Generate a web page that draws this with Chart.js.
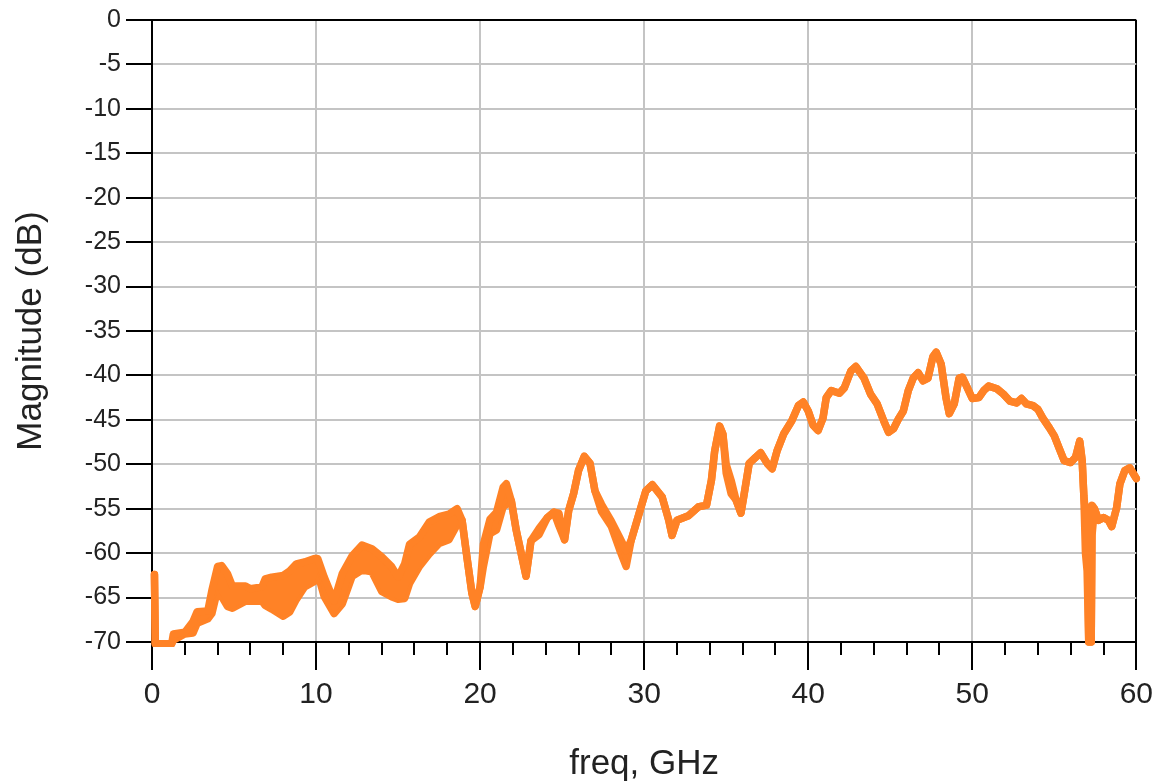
<!DOCTYPE html>
<html>
<head>
<meta charset="utf-8">
<script src="https://cdn.jsdelivr.net/npm/chart.js@4.4.1/dist/chart.umd.min.js"></script>
<style>
  html, body { margin: 0; padding: 0; background: #ffffff; }
  #wrap { width: 1160px; height: 784px; }
</style>
</head>
<body>
<div id="wrap"><canvas id="c" width="1160" height="784"></canvas></div>
<script>
// ---- data (freq in GHz, magnitude in dB) ----
// upper / lower trace the centre of the two edges of the thick noisy band;
// where the trace is a single line they are equal.
const freq = [
  0.15, 0.2, 1.2, 1.3, 2.0, 2.5, 2.75, 3.4, 3.65, 4.0, 4.25, 4.6, 4.9, 5.7, 6.0, 6.7, 6.9, 7.3, 8.0, 8.4,
  8.8, 9.3, 9.9, 10.1, 10.5, 11.1, 11.6, 12.2, 12.8, 13.4, 14.0, 14.6, 15.0, 15.4, 15.7, 16.3, 16.9, 17.5, 18.1, 18.6,
  18.9, 19.2, 19.5, 19.7, 20.0, 20.2, 20.6, 21.0, 21.4, 21.6, 21.9, 22.2, 22.5, 22.8, 23.1, 23.6, 24.1, 24.5, 24.8, 25.15,
  25.4, 25.7, 26.0, 26.35, 26.7, 27.0, 27.4, 28.0, 28.5, 28.9, 29.2, 29.7, 30.1, 30.5, 31.1, 31.5, 31.7, 32.0, 32.7, 33.3,
  33.8, 34.1, 34.3, 34.6, 34.8, 35.0, 35.3, 35.6, 35.9, 36.1, 36.4, 36.8, 37.1, 37.5, 37.8, 38.1, 38.5, 39.0, 39.4, 39.7,
  40.0, 40.3, 40.6, 40.9, 41.1, 41.4, 41.9, 42.2, 42.6, 42.9, 43.4, 43.8, 44.2, 44.6, 44.9, 45.2, 45.5, 45.8, 46.1, 46.4,
  46.7, 47.0, 47.3, 47.6, 47.8, 48.1, 48.4, 48.6, 48.9, 49.2, 49.4, 49.7, 50.0, 50.4, 50.7, 51.0, 51.5, 51.9, 52.3, 52.7,
  53.0, 53.3, 53.7, 54.0, 54.3, 54.7, 55.0, 55.3, 55.6, 56.0, 56.3, 56.55, 56.7, 56.8, 56.9, 57.0, 57.1, 57.25, 57.3, 57.45,
  57.7, 58.0, 58.3, 58.5, 58.8, 59.0, 59.3, 59.6, 60.0
];
const upper = [
  -62.4, -70.2, -70.2, -69.1, -68.9, -67.7, -66.6, -66.5, -64.2, -61.5, -61.4, -62.3, -63.7, -63.7, -64.0, -63.8, -62.9, -62.7, -62.5, -62.0,
  -61.2, -61.0, -60.6, -60.6, -62.7, -65.4, -62.3, -60.3, -59.1, -59.5, -60.4, -61.5, -62.7, -61.2, -59.0, -58.2, -56.5, -55.9, -55.6, -55.0,
  -56.3, -60.5, -64.5, -66.0, -63.8, -59.0, -56.2, -55.4, -52.6, -52.2, -54.1, -57.4, -60.0, -62.6, -58.6, -57.2, -56.0, -55.4, -55.5, -58.5,
  -55.2, -53.3, -50.7, -49.1, -49.9, -53.0, -54.5, -56.4, -58.2, -59.7, -58.6, -55.5, -53.0, -52.3, -53.7, -56.3, -58.0, -56.3, -55.8, -54.8,
  -54.6, -51.8, -48.5, -45.7, -46.6, -50.0, -51.8, -54.0, -55.5, -53.3, -49.9, -49.2, -48.7, -49.9, -50.5, -48.5, -46.6, -45.1, -43.4, -43.0,
  -44.0, -45.6, -46.2, -44.8, -42.5, -41.7, -42.0, -41.4, -39.5, -39.0, -40.3, -42.1, -43.2, -45.1, -46.4, -46.0, -44.9, -44.0, -41.7, -40.3,
  -39.7, -40.6, -40.3, -37.9, -37.4, -38.7, -42.5, -44.3, -43.2, -40.3, -40.2, -41.4, -42.6, -42.5, -41.7, -41.2, -41.5, -42.1, -42.9, -43.1,
  -42.6, -43.2, -43.4, -43.8, -44.8, -45.9, -46.8, -48.2, -49.6, -49.8, -49.2, -47.4, -49.6, -53.5, -55.5, -56.0, -70.0, -70.0, -54.6, -55.0,
  -56.3, -56.0, -56.3, -57.0, -54.9, -52.2, -50.7, -50.4, -51.6
];
const lower = [
  -62.4, -70.2, -70.2, -69.8, -69.1, -69.0, -67.9, -67.4, -66.8, -64.1, -64.9, -66.0, -66.2, -65.4, -65.4, -65.4, -65.9, -66.3, -67.1, -66.6,
  -65.2, -63.8, -63.2, -62.3, -64.9, -66.8, -65.7, -62.6, -61.9, -62.1, -64.3, -64.9, -65.2, -65.1, -63.4, -61.5, -60.1, -58.9, -58.5, -56.8,
  -56.3, -60.5, -64.5, -66.0, -63.8, -61.5, -57.8, -57.4, -54.8, -54.5, -54.1, -57.4, -60.0, -62.6, -58.6, -57.9, -56.0, -55.4, -56.9, -58.5,
  -55.2, -53.3, -50.7, -49.1, -49.9, -53.0, -55.3, -57.0, -59.6, -61.5, -58.6, -55.5, -53.0, -52.3, -53.7, -56.3, -58.0, -56.3, -55.8, -54.8,
  -54.6, -51.8, -48.5, -45.7, -46.6, -51.0, -53.3, -54.0, -55.5, -53.3, -49.9, -49.2, -48.7, -49.9, -50.5, -48.5, -46.6, -45.1, -43.4, -43.0,
  -44.0, -45.6, -46.2, -44.8, -42.5, -41.7, -42.0, -41.4, -39.5, -39.0, -40.3, -42.1, -43.2, -45.1, -46.4, -46.0, -44.9, -44.0, -41.7, -40.3,
  -39.7, -40.6, -40.3, -37.9, -37.4, -38.7, -42.5, -44.3, -43.2, -40.3, -40.2, -41.4, -42.6, -42.5, -41.7, -41.2, -41.5, -42.1, -42.9, -43.1,
  -42.6, -43.2, -43.4, -43.8, -44.8, -45.9, -46.8, -48.2, -49.6, -49.8, -49.2, -47.4, -49.6, -53.5, -60.0, -62.0, -70.0, -70.0, -58.0, -55.0,
  -56.3, -56.0, -56.3, -57.0, -54.9, -52.2, -50.7, -50.4, -51.6
];
const xTickValues = [0, 10, 20, 30, 40, 50, 60];
const xMinorTickValues = [2, 4, 6, 8, 12, 14, 16, 18, 22, 24, 26, 28, 32, 34, 36, 38, 42, 44, 46, 48, 52, 54, 56, 58];
const yTickValues = [0, -5, -10, -15, -20, -25, -30, -35, -40, -45, -50, -55, -60, -65, -70];
const xTitle = 'freq, GHz';
const yTitle = 'Magnitude (dB)';

// ---- chart ----
const ORANGE = 'rgb(255,130,38)';
const GRID = '#c4c4c4';
const FONT = '"Liberation Sans", Arial, Helvetica, sans-serif';

const upperPts = freq.map((f, i) => ({ x: f, y: upper[i] }));
const lowerPts = freq.map((f, i) => ({ x: f, y: lower[i] }));

const minorTicks = {
  id: 'minorTicks',
  afterDraw(chart) {
    const xs = chart.scales.x;
    const ctx = chart.ctx;
    const b = chart.chartArea.bottom;
    ctx.save();
    ctx.strokeStyle = '#000';
    ctx.lineWidth = 2;
    ctx.beginPath();
    xMinorTickValues.forEach(v => {
      const px = Math.round(xs.getPixelForValue(v));
      ctx.moveTo(px, b);
      ctx.lineTo(px, b + 13);
    });
    ctx.stroke();
    ctx.restore();
  }
};

const lineStyle = {
  borderColor: ORANGE,
  backgroundColor: ORANGE,
  borderWidth: 7.5,
  pointRadius: 0,
  tension: 0,
  borderJoinStyle: 'round',
  borderCapStyle: 'round',
  clip: { left: 4, right: 4, top: 4, bottom: 5 }
};

new Chart(document.getElementById('c'), {
  type: 'line',
  data: {
    datasets: [
      Object.assign({ label: 'upper', data: upperPts, fill: '+1' }, lineStyle),
      Object.assign({ label: 'lower', data: lowerPts, fill: false }, lineStyle)
    ]
  },
  options: {
    responsive: false,
    animation: false,
    devicePixelRatio: 1,
    layout: { padding: { left: 0, right: 22, top: 18, bottom: 0 } },
    plugins: { legend: { display: false }, tooltip: { enabled: false } },
    scales: {
      x: {
        type: 'linear',
        min: 0, max: 60,
        afterBuildTicks: s => { s.ticks = xTickValues.map(v => ({ value: v })); },
        afterFit: s => { s.height = 142; },
        grid: {
          color: c => (c.tick && c.tick.value === 60) ? '#000' : GRID,
          lineWidth: 2,
          tickColor: '#000',
          tickLength: 28,
          tickWidth: 2
        },
        border: { color: '#000', width: 2 },
        ticks: {
          font: { family: FONT, size: 30 },
          color: '#222',
          padding: 7,
          maxRotation: 0,
          autoSkip: false,
          callback: v => String(v)
        },
        title: {
          display: true,
          text: xTitle,
          font: { family: FONT, size: 35 },
          color: '#222',
          padding: { top: 0, bottom: -1 }
        }
      },
      y: {
        type: 'linear',
        min: -70, max: 0,
        afterBuildTicks: s => { s.ticks = yTickValues.map(v => ({ value: v })); },
        afterFit: s => { s.width = 152; },
        grid: {
          color: c => (c.tick && c.tick.value === 0) ? '#000' : GRID,
          lineWidth: 2,
          tickColor: '#000',
          tickLength: 26,
          tickWidth: 2
        },
        border: { color: '#000', width: 2 },
        ticks: {
          font: { family: FONT, size: 25 },
          color: '#222',
          padding: 5,
          autoSkip: false,
          callback: v => String(v)
        },
        title: {
          display: true,
          text: yTitle,
          font: { family: FONT, size: 35 },
          color: '#222',
          padding: { top: 10, bottom: 0 }
        }
      }
    }
  },
  plugins: [minorTicks]
});
</script>
</body>
</html>
